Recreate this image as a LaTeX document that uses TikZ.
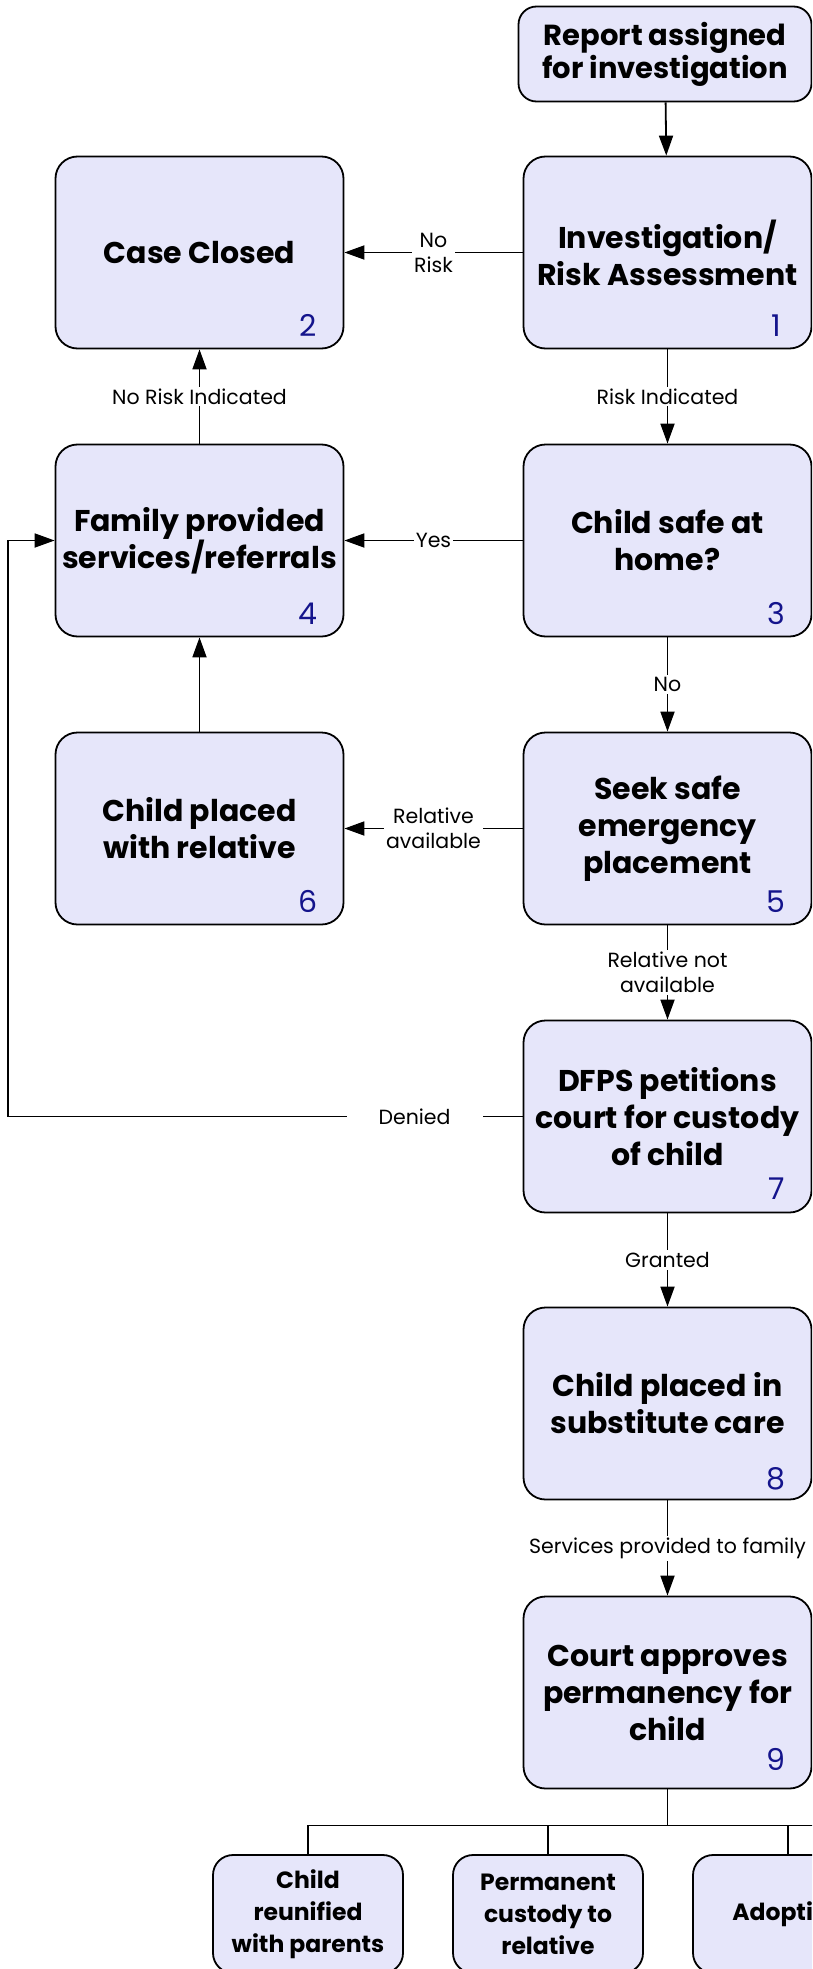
\documentclass[tikz,border=0pt]{standalone}
\usepackage{fontspec}
\setmainfont{Poppins}
\usepackage{tikz}
\usetikzlibrary{arrows.meta, positioning, calc}
\definecolor{caseline}{RGB}{0, 0, 0}
\definecolor{casefill}{RGB}{230, 230, 250}
\definecolor{casenum}{RGB}{20, 20, 140}

\begin{document}
\begin{tikzpicture}[
    x=1pt, y=-1pt,
    every node/.style={font=\fontsize{20.5}{25}\selectfont},
    stepbox/.style={rectangle, draw=caseline, fill=casefill, rounded corners=22pt, minimum width=288pt, minimum height=192pt, align=center, line width=1.8pt, inner sep=0pt, font=\bfseries\fontsize{30}{37}\selectfont},
    topbox/.style={stepbox, minimum width=293pt, minimum height=95pt, rounded corners=18pt, font=\bfseries\fontsize{29}{33}\selectfont},
    endbox/.style={stepbox, minimum width=190pt, minimum height=118pt, rounded corners=20pt, font=\bfseries\fontsize{23.5}{32}\selectfont},
    numtag/.style={text=casenum, font=\fontsize{30}{30}\selectfont, inner sep=0pt},
    lbl/.style={fill=white, align=center, inner sep=2pt},
    arrow/.style={-{Triangle[length=20pt, width=14pt]}, line width=1.8pt, color=caseline},
    line/.style={line width=1.8pt, color=caseline}
]

% Page
\fill[white, use as bounding box] (0,0) rectangle (812,1969);
\clip (0,0) rectangle (812,1969);

% Main column
\node[stepbox] (invest) at (667.5,252.5) {Investigation/\\Risk Assessment};
\node[topbox, above=53.2pt of invest, xshift=-2.5pt] (report) {Report assigned\\for investigation};
\node[stepbox, below=94.2pt of invest] (safe) {Child safe at\\home?};
\node[stepbox, below=94.2pt of safe] (seek) {Seek safe\\emergency\\placement};
\node[stepbox, below=94.2pt of seek] (court) {DFPS petitions\\court for custody\\of child};
\node[stepbox, below=93.2pt of court] (subst) {Child placed in\\substitute care};
\node[stepbox, below=95.2pt of subst] (approve) {Court approves\\permanency for\\child};

% Left column
\node[stepbox, left=178.2pt of invest] (closed) {Case Closed};
\node[stepbox, left=178.2pt of safe] (family) {Family provided\\services/referrals};
\node[stepbox, left=178.2pt of seek] (relative) {Child placed\\with relative};

% Outcomes
\node[endbox] (reunify) at (308,1914) {Child\\reunified\\with parents};
\node[endbox] (kin) at (548,1914) {Permanent\\custody to\\relative};
\node[endbox] (adopt) at (788,1914) {Adoption};

% Step numbers
\node[numtag] (n1) at ($(invest.south east)+(-36,-24)$) {1};
\node[numtag] (n2) at ($(closed.south east)+(-36,-24)$) {2};
\node[numtag] (n3) at ($(safe.south east)+(-36,-24)$) {3};
\node[numtag] (n4) at ($(family.south east)+(-36,-24)$) {4};
\node[numtag] (n5) at ($(seek.south east)+(-36,-24)$) {5};
\node[numtag] (n6) at ($(relative.south east)+(-36,-24)$) {6};
\node[numtag] (n7) at ($(court.south east)+(-36,-25)$) {7};
\node[numtag] (n8) at ($(subst.south east)+(-36,-22)$) {8};
\node[numtag] (n9) at ($(approve.south east)+(-36,-30)$) {9};

% Helper points
\coordinate (back) at (8,0);
\coordinate (fork) at ($(approve.south)+(0,36)$);
\coordinate (edge) at (830,0);

% Arrows
\draw[arrow] (report) -- (invest);
\draw[arrow] (invest) -- node[lbl] (l1) {No\\Risk} (closed);
\draw[arrow] (invest) -- node[lbl] (l2) {Risk Indicated} (safe);
\draw[arrow] (family) -- node[lbl] (l3) {No Risk Indicated} (closed);
\draw[arrow] (safe) -- node[lbl] (l4) {Yes} (family);
\draw[arrow] (safe) -- node[lbl] (l5) {No} (seek);
\draw[arrow] (seek) -- node[lbl] (l6) {Relative\\available} (relative);
\draw[arrow] (relative) -- (family);
\draw[arrow] (seek) -- node[lbl] (l7) {Relative not\\available} (court);
\draw[arrow] (court.west) -- node[lbl, pos=0.21, inner xsep=32pt] (l8) {Denied} (court.west -| back) |- (family.west);
\draw[arrow] (court) -- node[lbl] (l9) {Granted} (subst);
\draw[arrow] (subst) -- node[lbl] (l10) {Services provided to family} (approve);

% Permanency branches
\draw[line] (approve) -- (fork);
\draw[line] (fork) -- (fork -| edge);
\draw[line] (fork) -| (reunify);
\draw[line] (fork) -| (kin);
\draw[line] (fork) -| (adopt);

\end{tikzpicture}
\end{document}
